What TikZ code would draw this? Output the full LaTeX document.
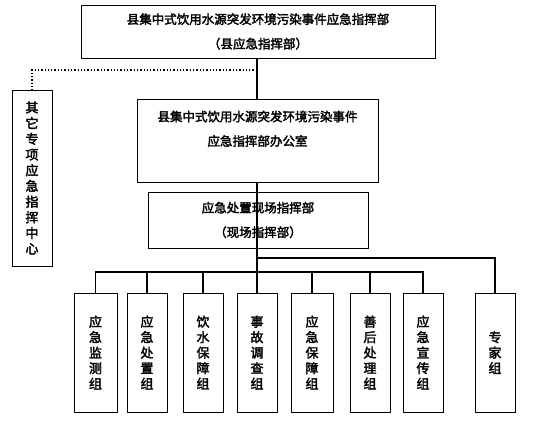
\documentclass[tikz,border=0pt]{standalone}
\usepackage{fontspec}
\newfontfamily\cjk[FakeBold=2.5]{Noto Sans CJK SC}
\usepackage{tikz}
\usetikzlibrary{positioning,calc}

\begin{document}
\begin{tikzpicture}[x=1pt, y=-1pt,
  box/.style={rectangle, draw, line width=0.8pt, align=center, font=\cjk\fontsize{12.5}{24.5}\selectfont},
  groupbox/.style={box, minimum width=40pt, minimum height=119pt, font=\cjk\fontsize{13}{15.5}\selectfont},
  link/.style={line width=1.6pt}]

\useasboundingbox (0,0) rectangle (538,426);

% HEADQUARTERS

\node [box, minimum width=354pt, minimum height=53pt] (zhihuibu) at (258,31.5)
{县集中式饮用水源突发环境污染事件应急指挥部\\（县应急指挥部）};

\node [box, minimum width=241pt, minimum height=83pt] (bangongshi) at (257.5,140.5)
{县集中式饮用水源突发环境污染事件\\应急指挥部办公室\\\mbox{}};

\node [box, minimum width=220pt, minimum height=56pt] (xianchang) at (258,220)
{应急处置现场指挥部\\（现场指挥部）};

\node [box, minimum width=40pt, minimum height=176pt, font=\cjk\fontsize{13}{15.7}\selectfont] (qitazhongxin) at (32,178)
{其\\它\\专\\项\\应\\急\\指\\挥\\中\\心};

% GROUPS

\node [groupbox, minimum width=43pt] (jiancezu) at (95.5,352.5) {应\\急\\监\\测\\组};
\node [groupbox] (chuzhizu) at (147,352.5) {应\\急\\处\\置\\组};
\node [groupbox] (yinshuizu) at (203,352.5) {饮\\水\\保\\障\\组};
\node [groupbox] (diaochazu) at (257,352.5) {事\\故\\调\\查\\组};
\node [groupbox, minimum width=42pt] (baozhangzu) at (312,352.5) {应\\急\\保\\障\\组};
\node [groupbox] (shanhouzu) at (370,352.5) {善\\后\\处\\理\\组};
\node [groupbox] (xuanchuanzu) at (423,352.5) {应\\急\\宣\\传\\组};
\node [groupbox] (zhuanjiazu) at (495,352.5) {专\\家\\组};

% LINKS

\coordinate (dotsplit) at (257,70);
\coordinate (bus1) at (257,258);
\coordinate (bus2) at (257,272);

\draw [link] (zhihuibu.south -| dotsplit) -- (bangongshi.north -| dotsplit);
\draw [dotted, line width=1.3pt] (dotsplit) -| (qitazhongxin.north);
\draw [link] (bangongshi.south -| bus1) -- (xianchang.south -| bus1) ;
\draw [link] (xianchang.south -| bus1) -- (diaochazu.north -| bus1);
\draw [link] (bus1) -| (zhuanjiazu.north);
\draw [link] (jiancezu.north) |- (bus2) -| (xuanchuanzu.north);
\foreach \zu in {chuzhizu, yinshuizu, baozhangzu, shanhouzu}
  \draw [link] (\zu.north) -- (\zu.north |- bus2);

\end{tikzpicture}
\end{document}
